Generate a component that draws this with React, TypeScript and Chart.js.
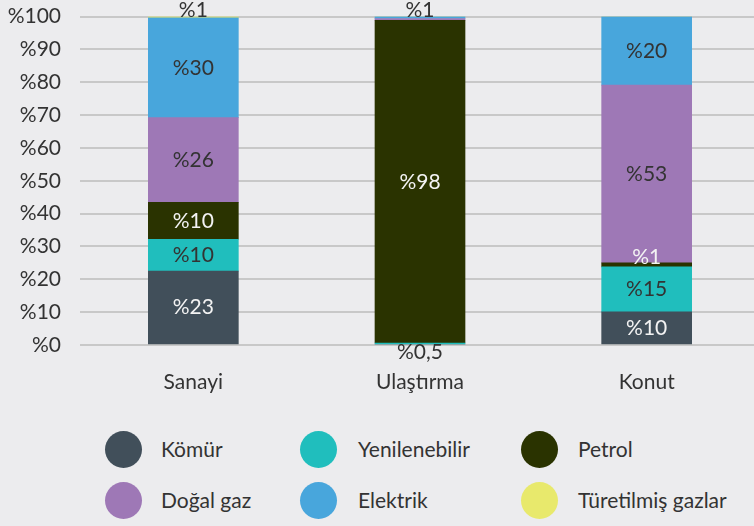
import React, { useEffect, useRef } from "react";
import { Chart, registerables } from "chart.js";

Chart.register(...registerables);

const categories = ["Sanayi", "Ulaştırma", "Konut"];

const seriesNames = ["Kömür", "Yenilenebilir", "Petrol", "Doğal gaz", "Elektrik", "Türetilmiş gazlar"];

const komur = [22.5, 0, 10.1];
const yenilenebilir = [9.7, 0.6, 13.7];
const petrol = [11.2, 98.2, 1.2];
const dogalGaz = [25.8, 0.6, 54.1];
const elektrik = [30.4, 0.6, 20.9];
const turetilmis = [0.4, 0, 0];

const komurLabels = ["%23", "", "%10"];
const yenilenebilirLabels = ["%10", "%0,5", "%15"];
const petrolLabels = ["%10", "%98", "%1"];
const dogalGazLabels = ["%26", "", "%53"];
const elektrikLabels = ["%30", "%1", "%20"];
const turetilmisLabels = ["%1", "", ""];

const yTickPrefix = "%";

const seriesValues = [komur, yenilenebilir, petrol, dogalGaz, elektrik, turetilmis];
const seriesLabels = [komurLabels, yenilenebilirLabels, petrolLabels, dogalGazLabels, elektrikLabels, turetilmisLabels];

const colors = ["#414f5a", "#20bebd", "#2a3300", "#9e78b6", "#48a6dc", "#e8e96c"];
const labelColors = ["#f3f3f3", "#333333", "#f3f3f3", "#333333", "#333333", "#333333"];

const FONT = "Lato, 'Open Sans', sans-serif";
const BG = "#ececee";

const labelPlugin = {
  id: "segLabels",
  afterDatasetsDraw(chart: any) {
    const ctx = chart.ctx;
    ctx.save();
    ctx.font = `21px ${FONT}`;
    ctx.textAlign = "center";
    ctx.textBaseline = "middle";
    chart.data.datasets.forEach((ds: any, i: number) => {
      const meta = chart.getDatasetMeta(i);
      meta.data.forEach((bar: any, j: number) => {
        const text = seriesLabels[i][j];
        if (!text) return;
        const { x, y, base } = bar.getProps(["x", "y", "base"], true);
        const h = Math.abs(base - y);
        let below = 0;
        for (let k = 0; k < i; k++) below += seriesValues[k][j];
        let ty: number;
        if (h >= 14) ty = (y + base) / 2;
        else if (below === 0) ty = base + 8;
        else ty = y - 6;
        ctx.fillStyle = labelColors[i];
        ctx.fillText(text, x, ty);
      });
    });
    ctx.restore();
  },
};

const legendCols = [123, 318, 539];
const legendTextX = [161, 358, 578];
const legendRows = [449, 500];

export default function App() {
  const ref = useRef<HTMLCanvasElement | null>(null);

  useEffect(() => {
    if (!ref.current) return;
    const chart = new Chart(ref.current, {
      type: "bar",
      data: {
        labels: categories,
        datasets: seriesNames.map((name, i) => ({
          label: name,
          data: seriesValues[i],
          backgroundColor: colors[i],
          borderWidth: 0,
          barThickness: 90,
        })),
      },
      options: {
        animation: false,
        responsive: false,
        devicePixelRatio: 1,
        layout: { padding: { top: 16.5, left: 0, right: 0, bottom: 0 } },
        plugins: {
          legend: { display: false },
          tooltip: { enabled: false },
        },
        scales: {
          x: {
            stacked: true,
            grid: { display: false, drawTicks: false },
            border: { display: false },
            ticks: { color: "#333333", font: { family: FONT, size: 21 }, padding: 25 },
            afterFit: (s: any) => {
              s.height = 55;
              s.paddingLeft = 0;
              s.paddingRight = 0;
            },
          },
          y: {
            stacked: true,
            min: 0,
            max: 100,
            grid: { color: "#c8c8c8", lineWidth: 2, drawTicks: false },
            border: { display: false },
            ticks: {
              stepSize: 10,
              color: "#333333",
              font: { family: FONT, size: 21 },
              padding: 19,
              callback: (v: any) => yTickPrefix + v,
            },
            afterFit: (s: any) => {
              s.width = 80;
              s.paddingTop = 0;
              s.paddingBottom = 0;
            },
          },
        },
      },
      plugins: [labelPlugin],
    });
    return () => chart.destroy();
  }, []);

  return (
    <div
      style={{
        position: "fixed",
        left: 0,
        top: 0,
        width: 754,
        height: 526,
        overflow: "hidden",
        background: BG,
        fontFamily: FONT,
      }}
    >
      <canvas ref={ref} width={760} height={400} style={{ position: "absolute", left: 0, top: 0 }} />
      {seriesNames.map((name, i) => {
        const col = i % 3;
        const row = Math.floor(i / 3);
        const cy = legendRows[row];
        return (
          <React.Fragment key={name}>
            <div
              style={{
                position: "absolute",
                left: legendCols[col] - 18.5,
                top: cy - 18.5,
                width: 37,
                height: 37,
                borderRadius: "50%",
                background: colors[i],
              }}
            />
            <div
              style={{
                position: "absolute",
                left: legendTextX[col],
                top: cy - 13,
                height: 26,
                lineHeight: "26px",
                fontSize: 21,
                color: "#333333",
                whiteSpace: "nowrap",
              }}
            >
              {name}
            </div>
          </React.Fragment>
        );
      })}
    </div>
  );
}
